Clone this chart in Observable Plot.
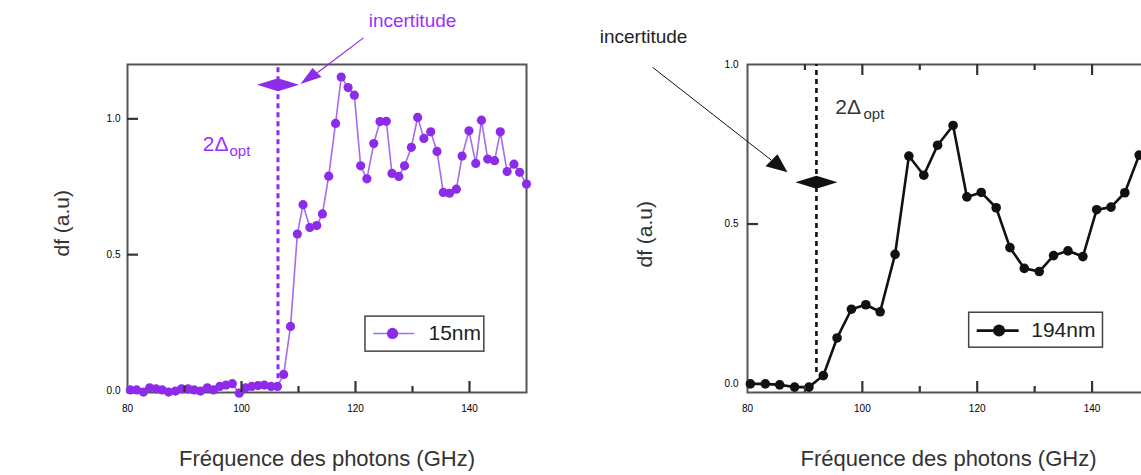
<!DOCTYPE html>
<html><head><meta charset="utf-8">
<script src="https://cdn.jsdelivr.net/npm/d3@7"></script>
<script src="https://cdn.jsdelivr.net/npm/@observablehq/plot@0.6"></script>
<style>
html,body{margin:0;padding:0;background:#fff;overflow:hidden;width:1141px;height:475px;}
#wrap{position:relative;width:1141px;height:475px;overflow:hidden;}
#left,#right{position:absolute;top:0;}
#left{left:0;width:570px;} #right{left:570px;width:600px;}
#left svg,#right svg{max-width:none !important;}
</style></head><body><div id="wrap"><div id="left"></div><div id="right"></div></div>
<script>
// ---- data ----
const freq15 = [80.5,81.6,82.8,83.9,85.0,86.1,87.2,88.4,89.5,90.6,91.7,92.8,94.0,95.1,96.2,97.3,98.4,99.6,100.7,101.8,102.9,104.0,105.2,106.3,
  107.4,108.6,109.8,110.8,112.0,113.2,114.2,115.3,116.5,117.5,118.7,119.8,120.9,122.0,123.2,124.3,125.4,126.4,127.6,128.6,
  129.8,130.9,132.0,133.2,134.3,135.4,136.5,137.7,138.7,139.9,141.1,142.1,143.2,144.4,145.4,146.6,147.8,148.8,150.0];
const df15 = [0.002,0.002,-0.006,0.010,0.006,0.002,-0.006,-0.002,0.006,0.006,0.002,-0.002,0.010,0.002,0.015,0.020,0.025,-0.010,0.010,0.015,0.018,0.020,0.015,0.015,
  0.059,0.236,0.576,0.684,0.600,0.607,0.650,0.789,0.983,1.154,1.115,1.087,0.827,0.779,0.909,0.990,0.991,0.799,0.788,0.827,
  0.895,1.005,0.928,0.952,0.880,0.729,0.726,0.741,0.863,0.956,0.836,0.995,0.852,0.846,0.952,0.806,0.833,0.803,0.760];
const freq194 = [80.5,83.1,85.6,88.2,90.7,93.2,95.6,98.1,100.6,103.1,105.7,108.1,110.7,113.1,115.8,118.2,120.7,123.3,125.7,128.2,130.8,133.3,135.8,138.4,140.8,143.3,145.7,148.2];
const df194 = [-0.001,-0.001,-0.004,-0.011,-0.011,0.025,0.143,0.233,0.247,0.225,0.405,0.713,0.653,0.747,0.809,0.585,0.599,0.551,0.426,0.361,0.351,0.401,0.416,0.398,0.545,0.553,0.598,0.716];
const seriesNames = ["15nm", "194nm"];
const gapFreq = [106.4, 92.0];          // 2Δopt position (GHz)
const xTickLabels = [80, 100, 120, 140];
const xMajor = [100, 120, 140];
const xMinor = [90, 110, 130];
const yTickLabels = [0, 0.5, 1.0];
const xTitle = "Fréquence des photons (GHz)";
const yTitle = "df (a.u)";
const noteText = "incertitude";

const purple = "#8c2be8", purpleLine = "#a46cf0", purpleText = "#9b30ff";
const frameColor = "#555", textColor = "#333", tickColor = "#333";
const font = "'Liberation Sans', Arial, Helvetica, sans-serif";

const rows15 = freq15.map((x, i) => ({x, y: df15[i]}));
const rows194 = freq194.map((x, i) => ({x, y: df194[i]}));

// custom symbols (pixel shapes)
const flatDiamond = {draw(c) { c.moveTo(-21, 0); c.lineTo(0, -6.5); c.lineTo(21, 0); c.lineTo(0, 6.5); c.closePath(); }};
const headLeft = {draw(c) { c.moveTo(0, 0); c.lineTo(12, -16); c.lineTo(21, -7); c.closePath(); }};
const headRight = {draw(c) { c.moveTo(0, 0); c.lineTo(-22, -6); c.lineTo(-10, -18); c.closePath(); }};
const fmt = d3.format(".1f");

const xDom = [80, 150];
const yDomL = [-0.0074, 1.2], yDomR = [-0.028, 1.0];

// inward ticks: rules with pixel lengths converted through the panel's scale span
function tickRules(yd, pxPerX, pxPerY, yTicksIn, topTicks) {
  const x0 = xDom[0], y0 = yd[0], y1 = yd[1];
  const lMaj = 11 / pxPerY, lMin = 6 / pxPerY, lY = 11 / pxPerX;
  const st = {stroke: tickColor, strokeWidth: 2.2};
  const m = [
    Plot.ruleX(xMajor, {y1: y0, y2: y0 + lMaj, ...st}),
    Plot.ruleX(xMinor, {y1: y0, y2: y0 + lMin, ...st}),
    Plot.ruleY(yTicksIn, {x1: x0, x2: x0 + lY, ...st})
  ];
  if (topTicks) {
    m.push(Plot.ruleX(xMajor, {y1: y1 - lMaj, y2: y1, ...st}));
    m.push(Plot.ruleX(xMinor, {y1: y1 - lMin, y2: y1, ...st}));
  }
  return m;
}

function panel(opts) {
  return Plot.plot({
    width: opts.width, height: 475,
    marginLeft: opts.marginLeft, marginRight: opts.marginRight, marginTop: 64, marginBottom: 83,
    style: {fontFamily: font, background: "transparent", overflow: "visible", maxWidth: "none"},
    x: {domain: xDom, ticks: xTickLabels, tickSize: 0, tickPadding: 12, tickFormat: d => d, label: null},
    y: {domain: opts.yDom, ticks: yTickLabels, tickSize: 0, tickPadding: opts.labelPad, tickFormat: fmt, label: null},
    marks: [
      Plot.frame({stroke: frameColor, strokeWidth: 2}),
      ...opts.marks,
      ...tickRules(opts.yDom, opts.pxPerX, 328 / (opts.yDom[1] - opts.yDom[0]), opts.yTicksIn, opts.topTicks)
    ]
  });
}

// ---- left panel ----
const left = panel({
  width: 570, marginLeft: 127, marginRight: 44, yDom: yDomL, labelPad: 7, pxPerX: 399 / 70,
  yTicksIn: [0.5, 1.0], topTicks: false,
  marks: [
    Plot.text([xTitle], {frameAnchor: "bottom", dy: 66, lineAnchor: "middle", fontSize: 22, fill: textColor}),
    Plot.text([yTitle], {frameAnchor: "left", dx: -65, dy: 28, rotate: -90, fontSize: 21, fill: textColor}),
    Plot.ruleX([gapFreq[0]], {y1: 0.01, y2: 1.2, stroke: purple, strokeWidth: 3, strokeDasharray: "5,4"}),
    Plot.line(rows15, {x: "x", y: "y", stroke: purpleLine, strokeWidth: 1.6}),
    Plot.dot(rows15, {x: "x", y: "y", r: 4.6, fill: purple, stroke: "none"}),
    Plot.dot([{x: gapFreq[0], y: 1.125}], {x: "x", y: "y", symbol: flatDiamond, fill: purple, stroke: "none"}),
    Plot.link([{x1: 121.4, y1: 1.298, x2: 113.3, y2: 1.170}], {x1: "x1", y1: "y1", x2: "x2", y2: "y2", stroke: purple, strokeWidth: 1.2}),
    Plot.dot([{x: 110.35, y: 1.128}], {x: "x", y: "y", symbol: headLeft, fill: purple, stroke: "none"}),
    Plot.text([noteText], {x: 130.0, y: 1.36, fontSize: 19, fill: purpleText}),
    Plot.text(["2Δ"], {x: 93.2, y: 0.882, textAnchor: "start", lineAnchor: "bottom", fontSize: 21, fill: purpleText}),
    Plot.text(["opt"], {x: 97.9, y: 0.864, textAnchor: "start", lineAnchor: "bottom", fontSize: 15, fill: purpleText}),
    Plot.rect([{}], {x1: 121.75, x2: 142.6, y1: 0.143, y2: 0.272, fill: "white", stroke: "#444", strokeWidth: 1.5}),
    Plot.ruleY([0.21], {x1: 123.2, x2: 130.4, stroke: purpleLine, strokeWidth: 1.6}),
    Plot.dot([{x: 126.5, y: 0.21}], {x: "x", y: "y", r: 5.6, fill: purple, stroke: "none"}),
    Plot.text([seriesNames[0]], {x: 132.8, y: 0.21, textAnchor: "start", fontSize: 21, fill: "#222"})
  ]
});
document.getElementById("left").append(left);

// ---- right panel ----
const right = panel({
  width: 600, marginLeft: 177, marginRight: 21, yDom: yDomR, labelPad: 9, pxPerX: 402 / 70,
  yTicksIn: [0.5], topTicks: true,
  marks: [
    Plot.text([xTitle], {frameAnchor: "bottom", dy: 66, lineAnchor: "middle", fontSize: 22, fill: textColor}),
    Plot.text([yTitle], {frameAnchor: "left", dx: -102, dy: 39, rotate: -90, fontSize: 21, fill: textColor}),
    Plot.ruleX([gapFreq[1]], {y1: 0.035, y2: 1.0, stroke: "#111", strokeWidth: 2.6, strokeDasharray: "5,4"}),
    Plot.line(rows194, {x: "x", y: "y", stroke: "#111", strokeWidth: 2.6}),
    Plot.dot(rows194, {x: "x", y: "y", r: 4.8, fill: "#111", stroke: "none"}),
    Plot.dot([{x: gapFreq[1], y: 0.631}], {x: "x", y: "y", symbol: flatDiamond, fill: "#111", stroke: "none"}),
    Plot.link([{x1: 63.48, y1: 0.991, x2: 84.17, y2: 0.70}], {x1: "x1", y1: "y1", x2: "x2", y2: "y2", stroke: "#111", strokeWidth: 1}),
    Plot.dot([{x: 86.96, y: 0.6625}], {x: "x", y: "y", symbol: headRight, fill: "#111", stroke: "none"}),
    Plot.text([noteText], {x: 61.9, y: 1.0875, fontSize: 19, fill: "#222"}),
    Plot.text(["2Δ"], {x: 95.3, y: 0.844, textAnchor: "start", lineAnchor: "bottom", fontSize: 21, fill: textColor}),
    Plot.text(["opt"], {x: 100.2, y: 0.828, textAnchor: "start", lineAnchor: "bottom", fontSize: 15, fill: textColor}),
    Plot.rect([{}], {x1: 118.6, x2: 141.9, y1: 0.1125, y2: 0.222, fill: "white", stroke: "#444", strokeWidth: 1.5}),
    Plot.ruleY([0.166], {x1: 120.0, x2: 127.3, stroke: "#111", strokeWidth: 2.6}),
    Plot.dot([{x: 123.8, y: 0.166}], {x: "x", y: "y", r: 6, fill: "#111", stroke: "none"}),
    Plot.text([seriesNames[1]], {x: 129.4, y: 0.166, textAnchor: "start", fontSize: 21, fill: "#222"})
  ]
});
document.getElementById("right").append(right);
</script>
</body></html>
